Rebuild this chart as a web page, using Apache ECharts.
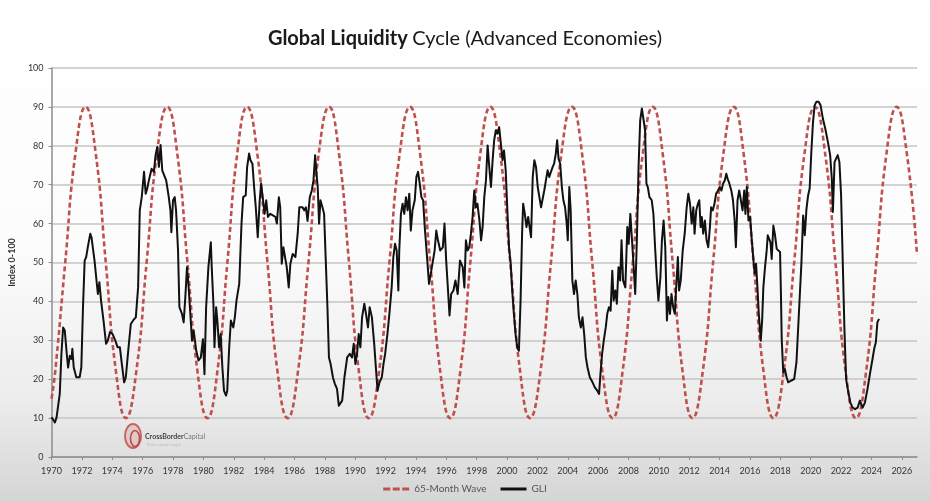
<!DOCTYPE html>
<html><head><meta charset="utf-8">
<script src="https://cdn.jsdelivr.net/npm/echarts@6/dist/echarts.min.js"></script>
<style>html,body{margin:0;padding:0;background:#fff}#c{width:930px;height:502px}</style>
</head><body><div id="c"></div>
<script>
const xTickLabels = [1970,1972,1974,1976,1978,1980,1982,1984,1986,1988,1990,1992,1994,1996,1998,2000,2002,2004,2006,2008,2010,2012,2014,2016,2018,2020,2022,2024,2026];
const yTickLabels = [0,10,20,30,40,50,60,70,80,90,100];
const seriesNames = ['65-Month Wave','GLI'];

// 65-month wave: points (peaks 90, troughs 10, crossings 50, in-between ~78 / ~22)
const waveYears = [1970.00,1970.24,1970.90,1971.57,1972.24,
  1972.91,1973.57,1974.24,1974.90, 1975.58,1976.26,1976.94,1977.62,
  1978.28,1978.95,1979.61,1980.27, 1980.92,1981.58,1982.23,1982.88,
  1983.55,1984.22,1984.88,1985.55, 1986.23,1986.92,1987.60,1988.28,
  1988.93,1989.59,1990.24,1990.89, 1991.57,1992.25,1992.93,1993.61,
  1994.27,1994.94,1995.60,1996.26, 1996.92,1997.58,1998.24,1998.90,
  1999.55,2000.21,2000.86,2001.51, 2002.20,2002.89,2003.58,2004.27,
  2004.94,2005.61,2006.28,2006.95, 2007.61,2008.28,2008.94,2009.60,
  2010.25,2010.91,2011.56,2012.21, 2012.89,2013.57,2014.25,2014.93,
  2015.58,2016.24,2016.89,2017.54, 2018.22,2018.91,2019.59,2020.27,
  2020.95,2021.63,2022.30,2022.98, 2023.65,2024.32,2024.99,2025.66,
  2026.33,2027.00];
const waveValues = [15,22,50,78,90,
  78,50,22,10, 22,50,78,90,
  78,50,22,10, 22,50,78,90,
  78,50,22,10, 22,50,78,90,
  78,50,22,10, 22,50,78,90,
  78,50,22,10, 22,50,78,90,
  78,50,22,10, 22,50,78,90,
  78,50,22,10, 22,50,78,90,
  78,50,22,10, 22,50,78,90,
  78,50,22,10, 22,50,78,90,
  78,50,22,10, 22,50,78,90,
  78,52];

const gliYears = [
1970.00,1970.22,1970.33,1970.54,1970.65,1970.76,1970.87,1971.02,1971.09,1971.20,
1971.31,1971.37,1971.46,1971.63,1971.85,1971.96,1972.07,1972.18,1972.28,1972.39,
1972.55,1972.63,1972.83,1972.94,1973.05,1973.15,1973.26,1973.42,1973.59,1973.70,
1973.85,1974.02,1974.20,1974.35,1974.50,1974.63,1974.78,1974.89,1975.07,1975.22,
1975.37,1975.55,1975.70,1975.81,1975.94,1976.09,1976.20,1976.30,1976.41,1976.59,
1976.74,1976.85,1976.96,1977.07,1977.18,1977.29,1977.39,1977.55,1977.72,1977.83,
1977.89,1978.00,1978.11,1978.20,1978.33,1978.42,1978.59,1978.70,1978.81,1978.92,
1979.03,1979.14,1979.25,1979.36,1979.53,1979.68,1979.83,1979.97,1980.07,1980.18,
1980.33,1980.49,1980.55,1980.66,1980.73,1980.84,1980.92,1981.03,1981.14,1981.25,
1981.36,1981.49,1981.57,1981.70,1981.81,1981.97,1982.07,1982.18,1982.36,1982.51,
1982.62,1982.79,1982.88,1983.01,1983.10,1983.23,1983.34,1983.45,1983.58,1983.71,
1983.80,1983.93,1984.03,1984.14,1984.25,1984.40,1984.58,1984.75,1984.84,1984.97,
1985.06,1985.16,1985.27,1985.38,1985.49,1985.62,1985.73,1985.88,1986.06,1986.21,
1986.32,1986.53,1986.64,1986.75,1986.86,1987.01,1987.14,1987.25,1987.36,1987.45,
1987.53,1987.62,1987.71,1987.84,1987.95,1988.06,1988.17,1988.27,1988.38,1988.53,
1988.66,1988.80,1988.92,1989.14,1989.29,1989.47,1989.64,1989.79,1989.90,1990.01,
1990.12,1990.23,1990.34,1990.45,1990.60,1990.71,1990.84,1990.95,1991.10,1991.25,
1991.36,1991.47,1991.60,1991.75,1991.86,1991.97,1992.12,1992.25,1992.40,1992.51,
1992.62,1992.73,1992.84,1992.90,1993.01,1993.12,1993.23,1993.34,1993.45,1993.56,
1993.66,1993.77,1993.92,1994.03,1994.14,1994.25,1994.36,1994.47,1994.58,1994.73,
1994.86,1995.01,1995.12,1995.23,1995.34,1995.45,1995.60,1995.77,1995.88,1995.99,
1996.10,1996.21,1996.32,1996.47,1996.60,1996.75,1996.90,1997.08,1997.19,1997.29,
1997.40,1997.51,1997.62,1997.73,1997.84,1997.95,1998.05,1998.18,1998.29,1998.39,
1998.50,1998.61,1998.72,1998.83,1998.94,1999.05,1999.15,1999.26,1999.37,1999.48,
1999.59,1999.70,1999.80,1999.91,2000.02,2000.13,2000.24,2000.34,2000.45,2000.56,
2000.67,2000.78,2000.89,2000.99,2001.06,2001.17,2001.28,2001.39,2001.50,2001.58,
2001.69,2001.80,2001.91,2002.02,2002.13,2002.24,2002.35,2002.45,2002.56,2002.67,
2002.78,2002.89,2003.00,2003.10,2003.21,2003.30,2003.39,2003.50,2003.61,2003.71,
2003.82,2003.93,2004.00,2004.10,2004.19,2004.30,2004.41,2004.52,2004.63,2004.73,
2004.86,2004.97,2005.08,2005.19,2005.30,2005.45,2005.63,2005.78,2005.95,2006.06,
2006.15,2006.26,2006.37,2006.50,2006.60,2006.71,2006.82,2006.93,2007.02,2007.13,
2007.23,2007.34,2007.45,2007.54,2007.64,2007.79,2007.92,2008.01,2008.12,2008.23,
2008.34,2008.44,2008.55,2008.66,2008.77,2008.88,2008.98,2009.09,2009.18,2009.27,
2009.38,2009.53,2009.64,2009.75,2009.86,2009.97,2010.10,2010.20,2010.31,2010.42,
2010.53,2010.62,2010.73,2010.83,2010.94,2011.05,2011.14,2011.25,2011.33,2011.44,
2011.57,2011.70,2011.83,2011.94,2012.05,2012.16,2012.27,2012.35,2012.46,2012.57,
2012.66,2012.75,2012.83,2012.92,2013.03,2013.14,2013.25,2013.36,2013.44,2013.55,
2013.66,2013.77,2013.90,2014.01,2014.12,2014.23,2014.34,2014.44,2014.53,2014.64,
2014.77,2014.88,2014.99,2015.07,2015.18,2015.29,2015.40,2015.51,2015.62,2015.70,
2015.79,2015.90,2016.01,2016.12,2016.23,2016.31,2016.40,2016.49,2016.58,2016.71,
2016.80,2016.88,2016.99,2017.10,2017.17,2017.26,2017.35,2017.43,2017.54,2017.65,
2017.76,2017.87,2017.98,2018.04,2018.09,2018.19,2018.30,2018.41,2018.52,2018.69,
2018.91,2019.06,2019.17,2019.28,2019.39,2019.50,2019.61,2019.72,2019.83,2019.93,
2020.04,2020.15,2020.26,2020.37,2020.52,2020.65,2020.80,2020.96,2021.13,2021.28,
2021.39,2021.46,2021.57,2021.67,2021.78,2021.89,2022.00,2022.11,2022.22,2022.33,
2022.48,2022.61,2022.76,2022.92,2023.09,2023.24,2023.42,2023.57,2023.74,2023.92,
2024.07,2024.18,2024.29,2024.39,2024.50];
const gliValues = [
10.2,8.9,10.2,16.2,26.5,33.3,32.5,25.7,23.0,26.0,
25.2,27.8,23.0,20.5,20.5,23.0,38.5,50.5,51.4,54.0,
57.4,56.5,50.5,46.2,41.9,44.9,40.2,35.1,29.1,29.9,
32.1,31.6,29.9,28.2,28.2,23.9,19.2,20.5,28.2,34.2,
35.1,35.9,43.6,63.4,66.8,73.3,67.7,69.0,71.1,74.1,
73.3,77.6,79.7,74.6,80.2,73.7,73.3,71.1,66.8,63.4,
57.8,66.0,66.8,63.4,53.1,38.5,36.8,34.6,41.1,48.8,
43.6,36.8,29.9,32.5,27.3,24.8,25.6,30.3,21.3,38.5,
48.8,55.2,48.8,39.4,28.2,38.5,35.1,28.2,31.6,23.0,
17.0,15.8,17.0,28.2,35.1,33.3,35.9,40.2,44.5,60.0,
66.8,67.3,74.5,78.0,76.3,75.4,69.4,64.2,56.5,66.0,
70.3,66.0,62.5,66.0,61.7,62.5,62.1,61.7,60.0,66.8,
64.2,49.7,53.9,54.4,48.8,43.6,49.7,52.2,51.4,57.4,
64.2,64.2,63.4,64.2,60.7,66.8,68.5,71.1,77.6,72.8,
69.4,60.0,66.0,64.2,62.5,50.5,38.5,25.6,23.9,20.5,
18.8,17.5,13.2,14.5,20.5,25.6,26.5,25.6,29.1,23.9,
26.5,31.6,28.2,35.9,39.4,36.8,33.3,38.5,35.9,29.1,
23.0,17.0,19.2,20.5,23.9,26.5,31.6,36.8,43.6,51.4,
54.8,53.1,42.8,53.1,62.5,65.1,62.5,66.8,63.4,67.7,
58.2,63.4,66.0,72.0,73.3,70.3,66.8,66.0,59.1,51.4,
44.5,47.9,50.5,53.1,58.2,55.7,53.1,53.9,60.0,50.5,
43.6,36.4,41.9,42.8,45.4,41.9,50.5,48.8,43.6,55.7,
53.1,53.9,57.4,61.7,68.5,64.2,65.1,60.8,55.7,59.1,
66.8,71.1,80.1,74.5,69.4,76.3,81.4,84.0,83.1,84.8,
80.6,76.3,78.8,73.7,63.4,53.9,49.7,42.8,36.8,31.6,
28.2,27.3,40.2,57.4,65.1,62.5,59.1,61.7,62.1,56.5,
72.0,76.3,74.5,69.4,66.8,64.2,64.2,68.5,71.1,73.7,
72.0,73.3,74.5,75.4,78.0,81.4,76.7,75.4,69.4,66.0,
64.2,60.0,55.7,69.4,63.4,45.4,41.9,45.4,41.9,35.9,
33.3,35.9,31.6,25.6,23.0,20.5,19.2,17.9,17.0,16.2,
21.3,26.5,29.9,33.3,36.8,38.5,37.6,47.9,40.2,42.8,
39.4,48.8,45.4,55.7,45.4,43.6,59.1,54.8,62.5,55.7,
48.8,41.9,55.7,74.5,86.6,89.6,89.1,84.0,70.3,69.4,
66.8,66.0,62.5,53.9,46.2,40.2,46.2,55.7,60.8,53.9,
35.1,41.1,36.8,41.9,38.5,36.8,43.6,51.4,42.8,45.4,
53.1,57.4,64.2,67.7,65.1,60.0,64.2,57.4,63.4,65.1,
66.0,59.1,61.7,57.4,60.8,55.7,53.9,59.1,64.2,63.4,
65.1,67.7,68.5,69.4,68.5,70.3,71.1,72.8,71.5,70.3,
68.5,66.0,60.8,53.9,66.0,68.5,66.0,63.4,68.5,62.5,
69.4,60.8,61.7,55.7,50.5,47.1,49.7,43.6,36.8,29.9,
35.1,43.6,48.8,53.1,57.0,57.4,55.2,50.9,59.5,57.0,
53.5,53.1,52.7,41.5,30.3,21.8,22.6,20.5,19.2,19.6,
20.0,24.3,32.9,41.5,50.1,62.1,57.0,63.8,67.3,69.0,
78.4,86.1,90.4,91.3,91.3,90.4,87.0,84.4,81.0,77.6,
71.5,63.0,75.8,76.7,77.6,75.8,67.3,50.1,32.9,20.0,
16.6,14.0,12.7,12.3,12.7,14.5,12.7,14.0,17.5,21.8,
25.2,27.8,29.5,34.6,35.5];

const FONT = 'Lato, "Liberation Sans", sans-serif';
const chart = echarts.init(document.getElementById('c'), null, {renderer: 'canvas'});
chart.setOption({
  backgroundColor: {
    type: 'linear', x: 0, y: 0, x2: 0, y2: 1,
    colorStops: [
      {offset: 0, color: '#ffffff'},
      {offset: 0.5, color: '#fcfcfc'},
      {offset: 0.8, color: '#ececec'},
      {offset: 1, color: '#d5d5d5'}
    ]
  },
  animation: false,
  textStyle: {fontFamily: FONT},
  title: {
    text: '{b|Global Liquidity} {n|Cycle (Advanced Economies)}',
    left: 'center', top: 24,
    textStyle: {
      rich: {
        b: {fontFamily: FONT, fontSize: 20, fontWeight: 'bold', color: '#1a1a1a'},
        n: {fontFamily: FONT, fontSize: 20, fontWeight: 'normal', color: '#1a1a1a'}
      }
    }
  },
  grid: {left: 44, right: 13, top: 68, bottom: 45, containLabel: false},
  legend: {
    data: [
      {name: seriesNames[0], icon: 'path://M0,0h7v3h-7z M9.5,0h7v3h-7z M19,0h7v3h-7z'},
      {name: seriesNames[1], icon: 'path://M0,0h26v3h-26z'}
    ],
    bottom: 3, left: 'center',
    itemWidth: 26, itemHeight: 3, itemGap: 14,
    textStyle: {fontFamily: FONT, fontSize: 10, color: '#555'}
  },
  xAxis: {
    type: 'value', min: 1970, max: 2027, interval: 2,
    axisLine: {show: true, lineStyle: {color: '#8c8c8c', width: 1.5}},
    axisTick: {show: true, length: 3, lineStyle: {color: '#8c8c8c'}},
    splitLine: {show: false},
    axisLabel: {
      fontFamily: FONT, fontSize: 9, color: '#333', margin: 10,
      showMaxLabel: false,
      formatter: v => xTickLabels.indexOf(v) >= 0 ? String(v) : ''
    }
  },
  yAxis: {
    type: 'value', min: 0, max: 100, interval: 10,
    name: 'Index 0-100', nameLocation: 'middle', nameGap: 27, nameRotate: 90,
    nameTextStyle: {fontFamily: FONT, fontSize: 9, fontWeight: 'bold', color: '#333'},
    axisLine: {show: true, lineStyle: {color: '#8c8c8c', width: 1.5}},
    axisTick: {show: true, length: 3, lineStyle: {color: '#8c8c8c'}},
    splitLine: {show: true, lineStyle: {color: '#c4c4c4', width: 1.5}},
    axisLabel: {
      fontFamily: FONT, fontSize: 9, color: '#333', margin: 8,
      formatter: v => yTickLabels.indexOf(v) >= 0 ? String(v) : ''
    }
  },
  graphic: [
    {type: 'ellipse', left: 124, top: 423, shape: {rx: 8, ry: 12},
     style: {fill: 'rgba(214,120,120,0.25)', stroke: '#c86464', lineWidth: 2}},
    {type: 'ellipse', left: 128, top: 428, shape: {rx: 4.5, ry: 8},
     style: {fill: 'none', stroke: '#b84848', lineWidth: 1.5}},
    {type: 'text', left: 145, top: 433,
     style: {text: '{a|CrossBorder}{c|Capital}',
       rich: {a: {fontFamily: FONT, fontSize: 7, fontWeight: 'bold', fill: '#444'},
              c: {fontFamily: FONT, fontSize: 7, fill: '#777'}}}},
    {type: 'text', left: 147, top: 443,
     style: {text: 'Professional Insight', fill: '#bdbdbd', font: '4px ' + FONT}}
  ],
  series: [
    {
      name: seriesNames[0], type: 'line', smooth: 0.5,
      symbol: 'none', showSymbol: false,
      data: waveYears.map((y, i) => [y, waveValues[i]]),
      lineStyle: {color: '#c0504d', width: 2.6, type: [5, 3]},
      itemStyle: {color: '#c0504d'},
      z: 2
    },
    {
      name: seriesNames[1], type: 'line',
      symbol: 'none', showSymbol: false,
      data: gliYears.map((y, i) => [y, gliValues[i]]),
      lineStyle: {color: '#111', width: 2, join: 'round'},
      itemStyle: {color: '#111'},
      z: 3
    }
  ]
});
</script>
</body></html>
